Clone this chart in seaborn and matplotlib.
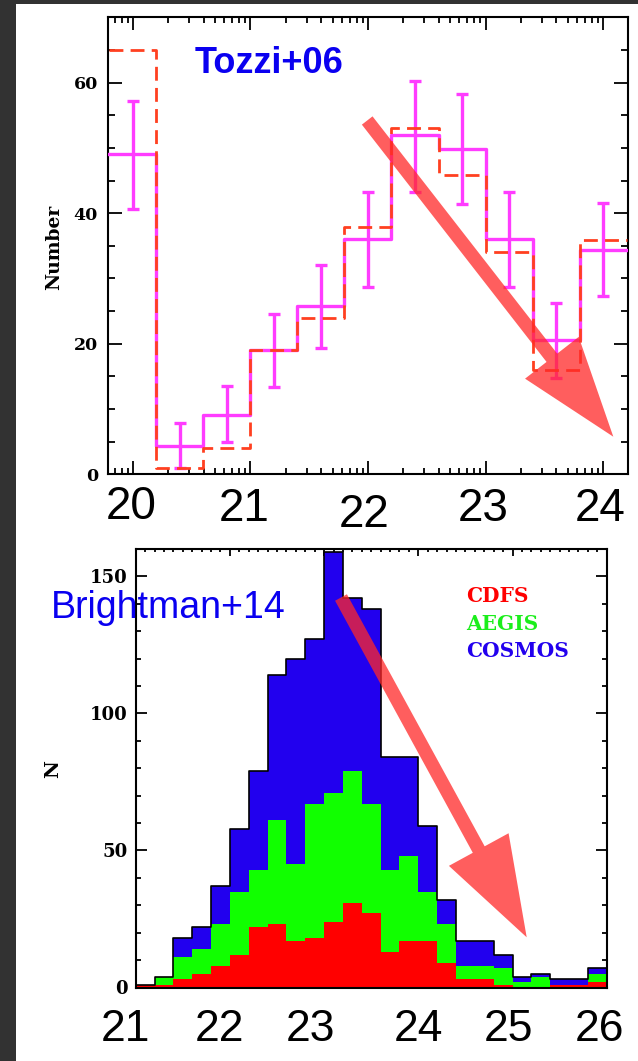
import numpy as np
import matplotlib
matplotlib.use("Agg")
import matplotlib.pyplot as plt
import seaborn as sns
from matplotlib.patches import FancyArrow, Rectangle
from matplotlib.transforms import IdentityTransform, ScaledTranslation
from matplotlib.ticker import FixedLocator, MultipleLocator

# ---------------- data: top panel (Tozzi+06) ----------------
tozzi_edges = [19.8, 20.2, 20.6, 21.0, 21.4, 21.8, 22.2, 22.6, 23.0, 23.4, 23.8, 24.2]
tozzi_centers = [20.0, 20.4, 20.8, 21.2, 21.6, 22.0, 22.4, 22.8, 23.2, 23.6, 24.0]
tozzi_counts = [49.0, 4.3, 9.1, 19.0, 25.8, 36.0, 51.9, 49.9, 36.0, 20.5, 34.4]
tozzi_err_hi = [57.2, 7.8, 13.5, 24.6, 32.1, 43.2, 60.3, 58.2, 43.3, 26.2, 41.6]
tozzi_err_lo = [40.6, 0.9, 4.9, 13.4, 19.4, 28.7, 43.3, 41.4, 28.7, 14.7, 27.3]
tozzi_model = [65.0, 1.0, 4.0, 19.0, 23.9, 37.9, 53.0, 45.9, 34.0, 15.9, 35.9]
tozzi_xticks = [20, 21, 22, 23, 24]
tozzi_xticklabels = ["20", "21", "22", "23", "24"]
tozzi_yticks = [0, 20, 40, 60]
tozzi_yticklabels = ["0", "20", "40", "60"]
tozzi_title = "Tozzi+06"
tozzi_ylabel = "Number"

# ---------------- data: bottom panel (Brightman+14) ----------------
bright_edges = [21.0, 21.2, 21.4, 21.6, 21.8, 22.0, 22.2, 22.4, 22.6, 22.8, 23.0,
                23.2, 23.4, 23.6, 23.8, 24.0, 24.2, 24.4, 24.6, 24.8, 25.0,
                25.2, 25.4, 25.6, 25.8, 26.0]
bright_centers = [21.1, 21.3, 21.5, 21.7, 21.9, 22.1, 22.3, 22.5, 22.7, 22.9,
                  23.1, 23.3, 23.5, 23.7, 23.9, 24.1, 24.3, 24.5, 24.7, 24.9,
                  25.1, 25.3, 25.5, 25.7, 25.9]
cdfs = [1, 1, 3, 5, 8, 12, 22, 23, 17, 18, 24, 31, 27, 13, 17, 17, 9, 3, 3, 1, 0, 0, 1, 1, 2]
aegis = [0, 3, 8, 9, 15, 23, 21, 38, 28, 49, 47, 48, 40, 30, 31, 18, 14, 5, 5, 6, 2, 4, 0, 0, 3]
cosmos = [0, 0, 7, 8, 14, 23, 36, 53, 75, 60, 88, 63, 71, 41, 36, 24, 9, 9, 9, 5, 2, 1, 2, 2, 2]
field_names = ["CDFS", "AEGIS", "COSMOS"]
bright_xticks = [21, 22, 23, 24, 25, 26]
bright_xticklabels = ["21", "22", "23", "24", "25", "26"]
bright_yticks = [0, 50, 100, 150]
bright_yticklabels = ["0", "50", "100", "150"]
bright_title = "Brightman+14"
bright_ylabel = "N"

# ---------------- styling ----------------
W, H = 638, 1061
MAGENTA = "#FF3CFF"
DASHRED = "#FF4020"
FILL_RED = "#FF0000"
FILL_GREEN = "#11FF00"
FILL_BLUE = "#2200EE"
TXT_GREEN = "#1BEE1B"
TITLE_BLUE = "#0A00F0"
ARROW = "#FF2828"
SERIF_B = dict(family="DejaVu Serif", weight="bold")

def fx(px):
    return px / W

def fy(py):
    return 1 - py / H

fig = plt.figure(figsize=(W / 100, H / 100), dpi=100)
fig.patch.set_facecolor("white")
fig.add_artist(Rectangle((0, 0), 15.5, H, transform=IdentityTransform(),
                         facecolor="#323232", edgecolor="none", zorder=0))
fig.add_artist(Rectangle((0, H - 4), W, 4, transform=IdentityTransform(),
                         facecolor="#323232", edgecolor="none", zorder=0))

# ================= top panel =================
ax1 = fig.add_axes([fx(107.7), fy(474.3), 520 / W, 457 / H])
sns.histplot(x=tozzi_centers, weights=tozzi_counts, bins=tozzi_edges,
             element="step", fill=False, color=MAGENTA, linewidth=2.4,
             ax=ax1, zorder=3)
sns.histplot(x=tozzi_centers, weights=tozzi_model, bins=tozzi_edges,
             element="step", fill=False, color=DASHRED, linewidth=2.0,
             linestyle=(0, (5, 2.6)), ax=ax1, zorder=4)
cnt = np.array(tozzi_counts)
yerr = [cnt - np.array(tozzi_err_lo), np.array(tozzi_err_hi) - cnt]
ax1.errorbar(tozzi_centers, tozzi_counts, yerr=yerr, fmt="none", ecolor=MAGENTA,
             elinewidth=2.4, capsize=4.6, capthick=2.4, zorder=3)

ax1.set_xlim(19.785, 24.21)
ax1.set_ylim(0, 70)
ax1.set_xlabel("")
ax1.set_xticks(tozzi_xticks)
ax1.set_yticks(tozzi_yticks)
minor_pos = [n + np.log10(k) for n in range(19, 25) for k in range(2, 10)]
minor_pos = [p for p in minor_pos if 19.785 < p < 24.21]
ax1.xaxis.set_minor_locator(FixedLocator(minor_pos))
ax1.yaxis.set_minor_locator(MultipleLocator(5))
ax1.tick_params(axis="both", which="both", direction="in", top=True, right=True,
                color="black", width=1.3)
ax1.tick_params(axis="y", which="major", length=10, pad=7)
ax1.tick_params(axis="y", which="minor", length=5)
ax1.tick_params(axis="x", which="major", length=9.5, pad=8)
ax1.tick_params(axis="x", which="minor", length=4.5)
ax1.set_xticklabels(tozzi_xticklabels, family="Liberation Sans", fontsize=33)
ax1.set_yticklabels(tozzi_yticklabels, fontsize=12.5, **SERIF_B)
for sp in ax1.spines.values():
    sp.set_linewidth(1.5)
    sp.set_color("black")
ax1.set_ylabel(tozzi_ylabel, fontsize=13.5, va="center", **SERIF_B)
ax1.yaxis.set_label_coords(-0.103, 0.497)

top_shift = [(-1.3, 0), (-5.8, -2), (-4.3, -8), (-2.8, -2), (-2.8, -1.5)]
for lab, (dx, dy) in zip(ax1.get_xticklabels(), top_shift):
    lab.set_transform(lab.get_transform() +
                      ScaledTranslation(dx / 100, dy / 100, fig.dpi_scale_trans))

fig.text(fx(195), fy(73), tozzi_title, family="Liberation Sans", weight="bold",
         fontsize=26, color=TITLE_BLUE, ha="left", va="baseline")

# ================= bottom panel =================
ax2 = fig.add_axes([fx(135.7), fy(988.3), 471 / W, 439.3 / H])
r = np.array(cdfs)
rg = r + np.array(aegis)
tot = rg + np.array(cosmos)
sns.histplot(x=bright_centers, weights=tot, bins=bright_edges, element="step",
             fill=True, color=FILL_BLUE, alpha=1, linewidth=0, ax=ax2)
sns.histplot(x=bright_centers, weights=rg, bins=bright_edges, element="step",
             fill=True, color=FILL_GREEN, alpha=1, linewidth=0, ax=ax2)
sns.histplot(x=bright_centers, weights=r, bins=bright_edges, element="step",
             fill=True, color=FILL_RED, alpha=1, linewidth=0, ax=ax2)
sns.histplot(x=bright_centers, weights=tot, bins=bright_edges, element="step",
             fill=False, color="black", linewidth=1.2, ax=ax2, zorder=3)

ax2.set_xlim(21, 26)
ax2.set_ylim(-0.3, 160)
ax2.set_xlabel("")
ax2.set_axisbelow(True)
ax2.set_xticks(bright_xticks)
ax2.set_yticks(bright_yticks)
ax2.xaxis.set_minor_locator(MultipleLocator(0.1))
ax2.yaxis.set_minor_locator(MultipleLocator(10))
ax2.tick_params(axis="both", which="both", direction="in", top=True, right=True,
                color="black", width=1.3)
ax2.tick_params(axis="y", which="major", length=8, pad=5.8)
ax2.tick_params(axis="y", which="minor", length=3.6)
ax2.tick_params(axis="x", which="major", length=5, pad=15)
ax2.tick_params(axis="x", which="minor", length=2.5)
ax2.set_xticklabels(bright_xticklabels, family="Liberation Sans", fontsize=32)
ax2.set_yticklabels(bright_yticklabels, fontsize=13, **SERIF_B)
for sp in ax2.spines.values():
    sp.set_linewidth(1.5)
    sp.set_color("black")
ax2.set_ylabel(bright_ylabel, fontsize=14, va="center", **SERIF_B)
ax2.yaxis.set_label_coords(-0.1756, 0.499)

bot_shift = [(-10, 0), (-10, 0), (-14, 0), (0, 0), (-4, 0), (-7, 0)]
for lab, (dx, dy) in zip(ax2.get_xticklabels(), bot_shift):
    lab.set_transform(lab.get_transform() +
                      ScaledTranslation(dx / 100, dy / 100, fig.dpi_scale_trans))

legend_colors = [FILL_RED, TXT_GREEN, FILL_BLUE]
legend_y = [0.892, 0.830, 0.768]
for name, col, yy in zip(field_names, legend_colors, legend_y):
    ax2.text(0.701, yy, name, transform=ax2.transAxes, color=col, fontsize=14.5,
             ha="left", va="center", **SERIF_B)

fig.text(fx(51), fy(617.5), bright_title, family="Liberation Sans",
         fontsize=27, color=TITLE_BLUE, ha="left", va="baseline")

# ================= arrows (annotation) =================
def add_arrow(x0, y0, x1, y1):
    fig.add_artist(FancyArrow(x0, H - y0, x1 - x0, -(y1 - y0), width=13.5,
                              head_width=68, head_length=100,
                              length_includes_head=True,
                              transform=IdentityTransform(), color=ARROW,
                              alpha=0.75, linewidth=0, zorder=5))

add_arrow(367.2, 120.5, 613.3, 436.7)
add_arrow(341.0, 597.5, 526.7, 937.3)

fig.savefig("out.png", dpi=100)
